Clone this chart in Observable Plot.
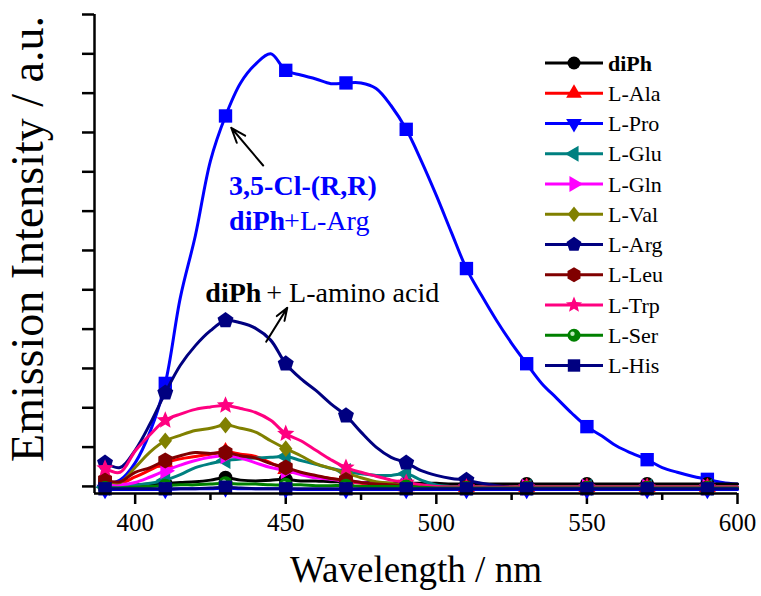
<!DOCTYPE html>
<html><head><meta charset="utf-8">
<script src="https://cdn.jsdelivr.net/npm/d3@7"></script>
<script src="https://cdn.jsdelivr.net/npm/@observablehq/plot@0.6"></script>
<style>
body{margin:0;background:#fff;}
#chart{position:relative;width:761px;height:596px;}
</style></head><body><div id="chart"></div>
<script>
// wavelengths (nm)
const wavelength = [390,395,400,405,410,415,420,425,430,435,440,445,450,455,460,465,470,475,480,485,490,495,500,505,510,515,520,525,530,535,540,545,550,555,560,565,570,575,580,585,590,595,600];
const markerWavelengths = [390,410,430,450,470,490,510,530,550,570,590];

// emission intensity (a.u.)
const clArg = [2,8,30,70,131,240,319,414,471,513,537,550,529,523,518,512,513,513,506,484,454,414,370,323,277,243,211,182,156,131,112,93,76,64,51,42,34,24,18,13,9,5,3];
const diPh  = [1,1,2,3,4,5,6,8,11,8,7,8,9,7,7,6,6,5,5,4,4,4,4,3,3,3,3,3,3,3,3,3,3,3,3,3,3,3,3,3,3,3,3];
const lAla  = [5,4,12,21,30,35,38,41,44,41,38,30,22,17,13,10,7,4,2,1,0,0,-1,-1,-1,-1,-1,-1,-1,-1,-1,-1,-1,-1,-1,-1,-1,-1,-1,-1,-1,-1,-1];
const lPro  = [-4,-4,-4,-4,-4,-3,-3,-3,-2,-3,-3,-3,-3,-4,-4,-4,-4,-4,-4,-4,-4,-4,-4,-4,-4,-4,-4,-4,-4,-4,-4,-4,-4,-4,-4,-4,-4,-4,-4,-4,-4,-4,-4];
const lGlu  = [-1,0,2,4,8,15,24,29,33,35,36,37,38,33,28,23,19,16,14,14,16,8,2,0,-1,-1,-1,-1,-1,-1,-1,-1,-1,-1,-1,-1,-1,-1,-1,-1,-1,-1,-1];
const lGln  = [3,2,5,12,20,27,33,37,39,36,30,24,20,15,11,9,7,5,3,2,1,0,-1,-1,-1,-1,-1,-1,-1,-1,-1,-1,-1,-1,-1,-1,-1,-1,-1,-1,-1,-1,-1];
const lVal  = [8,5,24,44,58,65,71,74,78,74,69,58,48,39,29,23,17,11,6,4,1,0,-1,-1,-1,-1,-1,-1,-1,-1,-1,-1,-1,-1,-1,-1,-1,-1,-1,-1,-1,-1,-1];
const lArg  = [30,24,46,80,119,154,179,198,211,208,201,186,156,137,122,105,90,69,50,37,30,20,14,10,8,4,1,-1,-2,-2,-2,-2,-2,-2,-2,-2,-2,-2,-2,-2,-2,-2,-2];
const lLeu  = [8,6,18,24,33,39,43,42,43,39,36,29,24,18,14,10,8,5,3,2,1,0,-1,-1,-1,-1,-1,-1,-1,-1,-1,-1,-1,-1,-1,-1,-1,-1,-1,-1,-1,-1,-1];
const lTrp  = [23,18,45,66,84,92,98,101,103,99,94,84,67,58,46,34,24,18,13,8,5,2,0,-1,-1,-1,-1,-1,-1,-1,-1,-1,-1,-1,-1,-1,-1,-1,-1,-1,-1,-1,-1];
const lSer  = [-2,-2,-1,0,1,2,2,3,4,3,3,2,2,2,1,1,1,0,0,0,0,-1,-2,-2,-2,-2,-2,-2,-2,-2,-2,-2,-2,-2,-2,-2,-2,-2,-2,-2,-2,-2,-2];
const lHis  = [-3,-3,-3,-3,-3,-3,-3,-2,-1,-2,-3,-3,-3,-3,-3,-3,-3,-3,-3,-3,-3,-3,-3,-3,-3,-3,-3,-3,-3,-3,-3,-3,-3,-3,-3,-3,-3,-3,-3,-3,-3,-3,-3];

const seriesNames  = ["diPh","L-Ala","L-Pro","L-Glu","L-Gln","L-Val","L-Arg","L-Leu","L-Trp","L-Ser","L-His"];
const seriesValues = [diPh, lAla, lPro, lGlu, lGln, lVal, lArg, lLeu, lTrp, lSer, lHis];
const seriesColors = ["#000000","#ff0000","#0000ff","#008080","#ff00ff","#808000","#000080","#800000","#ff0080","#008000","#000080"];
const seriesShapes = ["circle","triUp","triDown","triLeft","triRight","diamond","pentagon","hexagon","star","sphere","square"];
const mainColor = "#0000ff";

const xTicks = [400,450,500,550,600];
const xMinorTicks = [425,475,525,575];
const yTicks = [0,50,100,150,200,250,300,350,400,450,500,550,600];

const annoBlue = [{w:431.2, v:382, label:"3,5-Cl-(R,R)"}];
const annoBlue2 = [{w:431.2, v:338, bold:"diPh", rest:"+L-Arg"}];
const annoBlack = [{w:423.3, v:246, bold:"diPh", rest:" + L-amino acid"}];
const arrows = [{x1:442.5,y1:408,x2:431.9,y2:456},{x1:443.5,y1:184,x2:450.5,y2:227}];

// symbols
function polygon(n, rot, k){ return {draw(ctx,size){const R=Math.sqrt(size/Math.PI)*k; for(let i=0;i<n;i++){const a=rot+2*Math.PI*i/n; const x=R*Math.sin(a), y=-R*Math.cos(a); if(i) ctx.lineTo(x,y); else ctx.moveTo(x,y);} ctx.closePath();}}; }
const symbols = {
  circle: {draw(ctx,size){const r=Math.sqrt(size/Math.PI); ctx.moveTo(r,0); ctx.arc(0,0,r,0,2*Math.PI);}},
  sphere: {draw(ctx,size){const r=Math.sqrt(size/Math.PI); ctx.moveTo(r,0); ctx.arc(0,0,r,0,2*Math.PI);}},
  triUp: polygon(3,0,1.4),
  triDown: polygon(3,Math.PI,1.4),
  triLeft: polygon(3,-Math.PI/2,1.4),
  triRight: polygon(3,Math.PI/2,1.4),
  pentagon: polygon(5,0,1.2),
  hexagon: polygon(6,0,1.15),
  square: polygon(4,Math.PI/4,1.35),
  diamond: {draw(ctx,size){const R=Math.sqrt(size/Math.PI)*1.2; ctx.moveTo(0,-R); ctx.lineTo(R*0.8,0); ctx.lineTo(0,R); ctx.lineTo(-R*0.8,0); ctx.closePath();}},
  star: {draw(ctx,size){const R=Math.sqrt(size/Math.PI)*1.3, r=R*0.45; for(let i=0;i<10;i++){const a=Math.PI*i/5; const rr=i%2?r:R; const x=rr*Math.sin(a), y=-rr*Math.cos(a); if(i) ctx.lineTo(x,y); else ctx.moveTo(x,y);} ctx.closePath();}}
};

const marks = [];
function addSeries(values, color, shape){
  const data = wavelength.map((w,i)=>({w, v: values[i]}));
  marks.push(Plot.line(data,{x:"w",y:"v",stroke:color,strokeWidth:3,curve:"catmull-rom"}));
  marks.push(Plot.dot(data.filter(d=>markerWavelengths.includes(d.w)),{x:"w",y:"v",r:7,symbol:symbols[shape],fill:color,stroke:"none"}));
  if (shape === "sphere") marks.push(Plot.dot(data.filter(d=>markerWavelengths.includes(d.w)),{x:"w",y:"v",r:2.2,fill:"#b8e8b8",stroke:"none",dx:-1.5,dy:-1.5}));
}
addSeries(clArg, mainColor, "square");
seriesNames.forEach((n,i)=>addSeries(seriesValues[i], seriesColors[i], seriesShapes[i]));

const serif = "'Liberation Serif','Times New Roman',serif";
const plot = Plot.plot({
  width: 761, height: 596,
  marginLeft: 94, marginRight: 24, marginTop: 14, marginBottom: 103,
  x: {domain: [386.5, 600]},
  y: {domain: [-9, 600]},
  style: {fontFamily: serif, background: "white", color: "black"},
  marks: [
    Plot.axisX(xTicks, {tickSize: 11, strokeWidth: 2.5, fontSize: 25, tickPadding: 9, label: null}),
    Plot.axisX(xMinorTicks, {tickSize: 7, strokeWidth: 2.5, tickFormat: () => "", label: null}),
    Plot.axisY(yTicks, {tickSize: 12, strokeWidth: 2.5, tickFormat: () => "", label: null}),
    ...marks,
    Plot.ruleX([386.5], {strokeWidth: 2.5}),
    Plot.ruleY([-9], {strokeWidth: 2.5}),
    Plot.text(["Wavelength / nm"], {frameAnchor: "bottom", dy: 88, fontSize: 37}),
    Plot.text(["Emission Intensity / a.u."], {frameAnchor: "left", textAnchor: "middle", rotate: -90, dx: -66, dy: -15, fontSize: 46}),
    Plot.text(annoBlue, {x:"w", y:"v", text:"label", textAnchor:"start", fill:mainColor, fontWeight:"bold", fontSize:28}),
    Plot.text(annoBlue2, {x:"w", y:"v", text:"bold", textAnchor:"start", fill:mainColor, fontWeight:"bold", fontSize:28}),
    Plot.text(annoBlue2, {x:"w", y:"v", text:"rest", textAnchor:"start", fill:mainColor, fontSize:28, dx:55}),
    Plot.text(annoBlack, {x:"w", y:"v", text:"bold", textAnchor:"start", fill:"black", fontWeight:"bold", fontSize:28}),
    Plot.text(annoBlack, {x:"w", y:"v", text:"rest", textAnchor:"start", fill:"black", fontSize:28, dx:54}),
    Plot.arrow(arrows, {x1:"x1", y1:"y1", x2:"x2", y2:"y2", stroke:"black", strokeWidth:2, headLength:12, headAngle:40})
  ]
});
document.getElementById("chart").appendChild(plot);

// legend
const svg = d3.select(plot);
const lg = svg.append("g").attr("font-family", serif).attr("font-size", 22).attr("text-anchor", "start");
seriesNames.forEach((n,i)=>{
  const y = 63 + i*30.25;
  const g = lg.append("g").attr("transform", `translate(0,${y})`);
  g.append("line").attr("x1",545).attr("x2",603).attr("y1",0).attr("y2",0).attr("stroke",seriesColors[i]).attr("stroke-width",3);
  g.append("path").attr("transform","translate(574,0)").attr("d", d3.symbol(symbols[seriesShapes[i]], 6.5*6.5*Math.PI)()).attr("fill", seriesColors[i]);
  if (seriesShapes[i] === "sphere") g.append("circle").attr("cx",572.5).attr("cy",-1.5).attr("r",2.2).attr("fill","#b8e8b8");
  g.append("text").attr("x",608).attr("y",0).attr("dy","0.35em").attr("text-anchor","start").attr("fill","black").attr("font-weight", i===0?"bold":"normal").text(n);
});
</script></body></html>
